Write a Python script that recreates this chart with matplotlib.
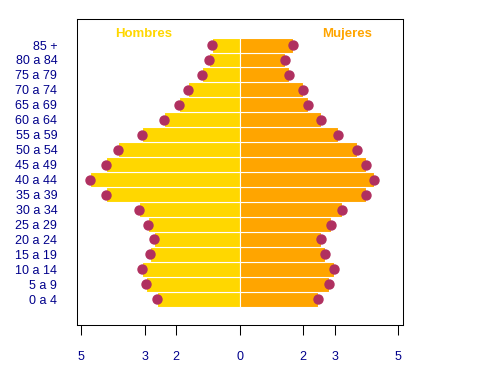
import numpy as np
import matplotlib.pyplot as plt

plt.rcParams['font.family'] = ['Liberation Sans', 'DejaVu Sans']

# age groups, bottom to top
edades = ['0 a 4', '5 a 9', '10 a 14', '15 a 19', '20 a 24', '25 a 29',
          '30 a 34', '35 a 39', '40 a 44', '45 a 49', '50 a 54', '55 a 59',
          '60 a 64', '65 a 69', '70 a 74', '75 a 79', '80 a 84', '85 +']
hombres = [2.60, 2.97, 3.09, 2.82, 2.69, 2.90, 3.19, 4.21, 4.73, 4.23,
           3.85, 3.09, 2.40, 1.92, 1.64, 1.20, 0.98, 0.88]
mujeres = [2.48, 2.83, 2.96, 2.70, 2.58, 2.89, 3.24, 3.97, 4.25, 3.97,
           3.71, 3.11, 2.55, 2.14, 2.01, 1.54, 1.43, 1.68]
xticks = [-5, -3, -2, 0, 2, 3, 5]

azul = '#00008B'
y = np.arange(len(edades))
h = -np.array(hombres)
m = np.array(mujeres)

fig = plt.figure(figsize=(4.8, 3.83), dpi=100)
ax = fig.add_axes([0.1598, 0.1514, 0.6804, 0.7982])

ax.barh(y, h, height=1, color='gold', edgecolor='white', linewidth=0.8)
ax.barh(y, m, height=1, color='orange', edgecolor='white', linewidth=0.8)
ax.scatter(h, y, s=42, color='#B03060', zorder=3)
ax.scatter(m, y, s=42, color='#B03060', zorder=3)

ax.set_xlim(-5.14, 5.16)
ax.set_ylim(-1.72, len(edades) - 1 + 1.72)

ax.set_yticks(y)
ax.set_yticklabels(edades, color=azul, fontsize=9)
ax.tick_params(axis='y', length=0, pad=14)

ax.set_xticks(xticks)
ax.set_xticklabels([str(abs(t)) for t in xticks], color=azul, fontsize=9)
ax.tick_params(axis='x', direction='out', length=7.5, width=0.75, pad=11)

for s in ax.spines.values():
    s.set_linewidth(0.75)

ax.text(-3.04, 17.75, 'Hombres', color='gold', fontsize=9.5,
        fontweight='bold', ha='center', va='center')
ax.text(3.4, 17.75, 'Mujeres', color='orange', fontsize=9.5,
        fontweight='bold', ha='center', va='center')

fig.savefig('out.png', dpi=100)
